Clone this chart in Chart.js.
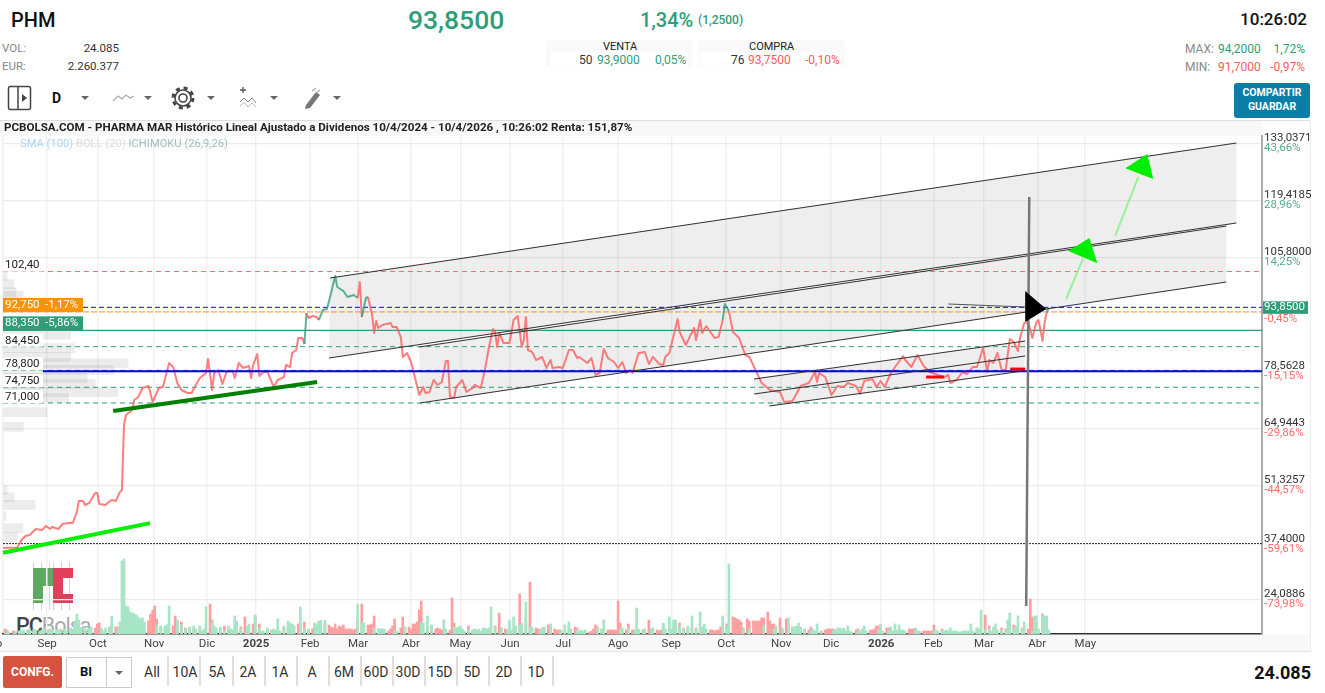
<!DOCTYPE html>
<html>
<head>
<meta charset="utf-8">
<title>PHM</title>
<script src="https://cdn.jsdelivr.net/npm/chart.js@4"></script>
<style>
  html, body { margin: 0; padding: 0; background: #fff; width: 1325px; height: 693px; overflow: hidden; font-family: Roboto, sans-serif; }
  .t { position: absolute; white-space: nowrap; line-height: 1; }
  .box { position: absolute; }
  .gr { color: #2e9e78; }
  .re { color: #ff5a5a; }
  .sep { position: absolute; top: 656px; width: 2px; height: 30px; background: #e6dcdc; }
  .btn { position: absolute; top: 665px; width: 32px; text-align: center; font-size: 14px; line-height: 1; color: #333; }
  .caret { position: absolute; width: 0; height: 0; border-left: 4px solid transparent; border-right: 4px solid transparent; border-top: 4px solid #666; }
  canvas { position: absolute; left: 0; top: 120px; }
</style>
</head>
<body>
<!-- header -->
<div class="t" style="left:11px;top:10px;font-size:20px;font-weight:500;color:#111">PHM</div>
<div class="t gr" style="left:408px;top:7px;font-size:26.5px;font-weight:500">93,8500</div>
<div class="t gr" style="left:640px;top:10px;font-size:20px;font-weight:500">1,34%</div>
<div class="t gr" style="left:698px;top:14px;font-size:12px;font-weight:500">(1,2500)</div>
<div class="t" style="right:18px;top:11px;font-size:17px;font-weight:500;color:#111">10:26:02</div>

<div class="t" style="left:2px;top:43px;font-size:11.5px;color:#888">VOL:</div>
<div class="t" style="right:1206px;top:43px;font-size:11.5px;color:#333">24.085</div>
<div class="t" style="left:2px;top:61px;font-size:11.5px;color:#888">EUR:</div>
<div class="t" style="right:1206px;top:61px;font-size:11.5px;color:#333">2.260.377</div>

<div class="box" style="left:546px;top:40px;width:147px;height:27px;background:#fafafa;border-radius:3px"></div>
<div class="box" style="left:698px;top:40px;width:147px;height:27px;background:#fafafa;border-radius:3px"></div>
<div class="box" style="left:550px;top:52px;width:138px;height:14px;background:#fff"></div>
<div class="box" style="left:701px;top:52px;width:140px;height:14px;background:#fff"></div>
<div class="t" style="left:603px;top:41px;font-size:11px;color:#222">VENTA</div>
<div class="t" style="left:749px;top:41px;font-size:11px;color:#222">COMPRA</div>
<div class="t" style="left:579px;top:54px;font-size:12px;color:#333">50</div>
<div class="t gr" style="left:597px;top:54px;font-size:12px">93,9000</div>
<div class="t gr" style="left:655px;top:54px;font-size:12px">0,05%</div>
<div class="t" style="left:731px;top:54px;font-size:12px;color:#333">76</div>
<div class="t re" style="left:748px;top:54px;font-size:12px">93,7500</div>
<div class="t re" style="left:805px;top:54px;font-size:12px">-0,10%</div>

<div class="t" style="left:1185px;top:43px;font-size:12px;color:#888">MAX:</div>
<div class="t gr" style="left:1218px;top:43px;font-size:12px">94,2000</div>
<div class="t gr" style="right:20px;top:43px;font-size:12px">1,72%</div>
<div class="t" style="left:1185px;top:61px;font-size:12px;color:#888">MIN:</div>
<div class="t re" style="left:1218px;top:61px;font-size:12px">91,7000</div>
<div class="t re" style="right:20px;top:61px;font-size:12px">-0,97%</div>

<div class="box" style="left:1234px;top:83px;width:76px;height:35px;background:#0a7ea6;border-radius:3px"></div>
<div class="t" style="left:1234px;width:76px;text-align:center;top:88px;font-size:10.5px;font-weight:700;color:#fff">COMPARTIR</div>
<div class="t" style="left:1234px;width:76px;text-align:center;top:102px;font-size:10.5px;font-weight:700;color:#fff">GUARDAR</div>

<!-- toolbar -->
<svg class="box" style="left:6px;top:84px" width="340" height="28" viewBox="0 0 340 28">
  <rect x="2.5" y="2.5" width="22" height="23" rx="2" fill="none" stroke="#444" stroke-width="1.5"/>
  <line x1="12" y1="3" x2="12" y2="25" stroke="#444" stroke-width="1.5"/>
  <path d="M16 10 L21 14 L16 18 Z" fill="#444"/>
  <polyline points="107,17 112,12 116,15 120,11 124,14 128,12" fill="none" stroke="#aaa" stroke-width="1.2"/>
  <circle cx="177" cy="14" r="4" fill="none" stroke="#444" stroke-width="1.6"/>
  <circle cx="177" cy="14" r="8" fill="none" stroke="#444" stroke-width="1.6"/>
  <circle cx="177" cy="14" r="10" fill="none" stroke="#444" stroke-width="3" stroke-dasharray="4 3.9"/>
  <path d="M234 6 h6 M237 3 v6" stroke="#555" stroke-width="1.3"/>
  <polyline points="234,18 238,14 242,18 246,14 250,19" fill="none" stroke="#888" stroke-width="1"/>
  <polyline points="234,22 238,18 242,23 246,19 250,23" fill="none" stroke="#bbb" stroke-width="1"/>
  <path d="M300 21 L310 8 L314 11 L304 24 L299 25 Z" fill="#777"/>
  <path d="M306 7 L310 4 M310 9 L314 6" stroke="#aaa" stroke-width="1.2"/>
</svg>
<div class="t" style="left:52px;top:91px;font-size:14px;font-weight:700;color:#111">D</div>
<div class="caret" style="left:81px;top:96px"></div>
<div class="caret" style="left:144px;top:96px"></div>
<div class="caret" style="left:207px;top:96px"></div>
<div class="caret" style="left:270px;top:96px"></div>
<div class="caret" style="left:333px;top:96px"></div>

<!-- chart frame -->
<div class="box" style="left:0;top:120px;width:1311px;height:1px;background:#e4dcd6"></div>
<div class="box" style="left:0;top:121px;width:1262px;height:15px;background:#f8f8f8"></div>
<div class="box" style="left:0;top:635px;width:1311px;height:16px;background:#f8f8f8;border-bottom:1px solid #e6e6e6"></div>
<div class="box" style="left:1310px;top:120px;width:1px;height:531px;background:#eee"></div>

<!-- watermark -->
<div class="box" style="left:33px;top:562px;width:20px;height:48px;background:repeating-linear-gradient(90deg,rgba(95,168,95,.35) 0 1px,transparent 1px 8px)"></div>
<div class="box" style="left:53px;top:562px;width:20px;height:48px;background:repeating-linear-gradient(90deg,rgba(224,64,92,.3) 0 1px,transparent 1px 8px)"></div>
<div class="box" style="left:33px;top:568px;width:10px;height:35px;background:#5fa85f"></div>
<div class="box" style="left:43px;top:568px;width:10px;height:18px;background:#5fa85f"></div>
<div class="box" style="left:53px;top:568px;width:10px;height:35px;background:#e0405c"></div>
<div class="box" style="left:63px;top:568px;width:10px;height:10px;background:#e0405c"></div>
<div class="box" style="left:63px;top:594px;width:10px;height:9px;background:#e0405c"></div>
<div class="t" style="left:16px;top:615px;font-size:21.5px;letter-spacing:-1px;color:#444;font-weight:500">PC<span style="color:#aaa;font-weight:400">Bolsa</span></div>

<canvas id="chartPHM" width="1320" height="530"></canvas>

<!-- chart title, over the canvas -->
<div class="t" style="left:4px;top:122px;font-size:11.6px;font-weight:700;color:#222">PCBOLSA.COM - PHARMA MAR Histórico Lineal Ajustado a Dividenos 10/4/2024 - 10/4/2026 , 10:26:02 Renta: 151,87%</div>
<div class="t" style="left:20px;top:138px;font-size:11.2px;color:#a9d6f5">SMA (100) <span style="color:#ddd">BOLL (20)</span> <span style="color:#9cbfc0">ICHIMOKU (26,9,26)</span></div>

<!-- bottom bar -->
<div class="box" style="left:3px;top:656px;width:59px;height:32px;background:#d5533f;border-radius:2px"></div>
<div class="t" style="left:3px;width:59px;text-align:center;top:666px;font-size:12px;font-weight:700;color:#fff">CONFG.</div>
<div class="box" style="left:66px;top:657px;width:64px;height:29px;border:1px solid #ccc"></div>
<div class="box" style="left:106px;top:657px;width:1px;height:30px;background:#ccc"></div>
<div class="t" style="left:80px;top:665px;font-size:13px;font-weight:700;color:#111">BI</div>
<div class="caret" style="left:115px;top:671px"></div>
<div class="btn" style="left:136px">All</div><div class="sep" style="left:167px"></div>
<div class="btn" style="left:169px">10A</div><div class="sep" style="left:199px"></div>
<div class="btn" style="left:201px">5A</div><div class="sep" style="left:232px"></div>
<div class="btn" style="left:232px">2A</div><div class="sep" style="left:264px"></div>
<div class="btn" style="left:264px">1A</div><div class="sep" style="left:296px"></div>
<div class="btn" style="left:296px">A</div><div class="sep" style="left:328px"></div>
<div class="btn" style="left:328px">6M</div><div class="sep" style="left:360px"></div>
<div class="btn" style="left:360px">60D</div><div class="sep" style="left:392px"></div>
<div class="btn" style="left:392px">30D</div><div class="sep" style="left:424px"></div>
<div class="btn" style="left:424px">15D</div><div class="sep" style="left:456px"></div>
<div class="btn" style="left:456px">5D</div><div class="sep" style="left:488px"></div>
<div class="btn" style="left:488px">2D</div><div class="sep" style="left:520px"></div>
<div class="btn" style="left:520px">1D</div><div class="sep" style="left:552px"></div>
<div class="t" style="right:14px;top:664px;font-size:18px;font-weight:700;color:#111">24.085</div>

<script>
// x axis counts trading sessions from 10/4/2024, month starts fall between sessions
const monthBars = [0, 21.5, 46.3, 73.7, 99.5, 123.4, 149.8, 173.2, 199, 223, 247.3, 273.2, 300, 325.9, 352.7, 379.5, 403.9, 428.3, 453.7, 478.5, 504.4, 527.8];
const monthLabels = ['', 'Sep', 'Oct', 'Nov', 'Dic', '2025', 'Feb', 'Mar', 'Abr', 'May', 'Jun', 'Jul', 'Ago', 'Sep', 'Oct', 'Nov', 'Dic', '2026', 'Feb', 'Mar', 'Abr', 'May'];

const priceTicks = [133.0371, 119.4185, 105.8, 93.85, 78.5628, 64.9443, 51.3257, 37.4, 24.0886];
const priceTickLabels = ['133,0371', '119,4185', '105,8000', '93,8500', '78,5628', '64,9443', '51,3257', '37,4000', '24,0886'];
const priceTickPercents = ['43,66%', '28,96%', '14,25%', '-0,45%', '-15,15%', '-29,86%', '-44,57%', '-59,61%', '-73,98%'];

const priceBars = [0,7,9,11,13,16,19,21,23,24,27,29,32,34,36,37,39,40,42,45,46,47,50,51,53,55,57,58,59,60,63,64,66,68,71,73,76,78,81,83,85,87,90,92,94,96,99,100,102,103,105,107,109,112,113,115,117,120,121,122,124,125,127,129,132,134,137,138,140,141,143,144,146,147,148,149,151,153,154,156,158,160,162,163,166,168,171,173,174,175,177,178,180,181,182,183,185,189,190,192,194,195,197,199,200,203,205,206,208,210,212,214,216,217,218,220,221,224,226,229,230,233,235,237,239,240,241,242,244,247,249,251,253,254,255,256,258,260,263,265,267,268,271,273,276,278,280,281,285,287,289,291,293,295,298,300,302,304,306,307,310,313,315,317,320,322,323,325,329,330,333,337,338,340,341,343,347,349,351,352,354,356,359,362,364,367,370,374,379,381,385,389,393,396,397,398,401,404,407,410,412,416,418,420,424,426,428,430,433,435,439,440,443,446,449,452,456,459,461,462,465,468,470,473,475,478,480,481,483,485,487,489,491,493,495,496,498,500,502,504,505,507,508,509,510];
const priceValues = [36.35,36.47,38.26,39.22,39.46,40.89,40.65,41.61,40.89,41.37,40.89,42.09,42.33,42.33,44.95,47.58,47.58,46.63,47.10,49.49,49.49,46.86,46.62,47.10,47.82,47.58,49.73,50.21,65.74,68.13,69.32,71.71,72.43,74.58,75.05,71.23,74.58,74.82,80.55,79.59,75.77,74.10,73.38,73.38,75.29,76.97,78.16,81.51,74.10,78.16,78.88,75.53,78.40,78.64,76.97,80.55,79.36,79.83,76.97,80.07,82.70,77.44,78.40,78.40,74.82,76.49,77.20,80.07,79.59,82.94,83.66,86.52,86.52,85.09,92.49,91.30,91.78,91.54,90.82,93.21,93.45,97.27,101.33,98.71,97.75,96.32,96.80,96.08,99.90,91.54,96.08,96.32,92.02,87.72,90.58,88.91,89.63,90.11,89.15,89.15,86.76,81.98,82.94,80.79,78.88,72.90,74.82,73.38,73.62,76.49,75.29,76.01,81.03,81.03,72.43,72.19,74.82,76.49,73.62,74.58,75.29,74.58,78.88,84.37,88.67,87.95,84.37,87.72,85.33,85.33,90.82,91.78,84.37,86.04,91.54,83.65,83.18,81.27,81.98,79.36,81.27,79.36,79.59,79.36,83.65,83.65,81.74,81.98,80.55,81.74,77.68,78.16,83.89,81.74,80.79,79.36,80.79,78.16,78.88,78.16,82.94,83.18,80.31,82.02,80.31,80.07,81.98,82.94,91.06,87.95,84.85,88.91,86.04,90.82,87.72,89.39,86.52,86.76,90.82,94.64,92.97,87.95,86.52,82.46,81.98,78.88,75.77,74.10,73.62,71.23,71.47,75.05,75.77,78.40,76.01,78.16,77.20,72.90,75.05,74.82,75.77,75.05,73.14,76.25,76.73,74.82,76.25,74.82,78.16,79.59,82.22,81.27,79.59,82.46,79.83,78.40,77.68,77.20,77.68,75.77,76.49,78.40,77.92,79.59,79.59,84.13,78.40,81.27,80.55,82.94,78.88,78.88,86.28,85.56,83.42,86.52,90.11,90.34,86.52,90.34,90.82,85.81,90.34,92.60,93.85];
// stretches of the line the source paints green: [first session, last session]
const greenStretches = [[147, 148], [154, 173], [175, 178], [351, 354], [509, 510]];

// volume per session, one value per session from 0 to 510, negative = down day
const volumeValues = [
  -5,-4,3,2,-3,-2,3,-3,3,3,4,-4,3,5,-3,5,4,-3,3,4,5,-4,3,5,4,-3,4,3,5,-4,5,3,-4,6,5,12,20,14,6,-4,
  7,-5,6,7,-6,-10,-11,-5,6,3,6,-7,7,18,-7,-7,6,12,73,75,28,27,22,21,20,19,17,15,16,12,-13,-20,-24,-28,-15,9,-7,8,-6,8,
  9,28,-8,-18,-13,14,-12,9,-6,5,-5,7,-6,8,5,-5,8,3,5,27,-30,-14,12,8,6,-5,7,-8,3,-6,8,5,4,18,13,-7,5,-17,-6,8,
  10,-10,-18,19,-10,6,3,3,-3,6,-4,3,5,4,15,3,-7,8,-6,13,11,10,8,-10,-11,27,-12,5,-4,5,-5,-10,11,10,13,14,-11,14,-9,-7,
  -6,-10,-5,-8,-7,-9,-5,-5,-5,-5,-4,-5,-13,30,-30,11,11,-9,-9,-10,-18,6,-5,5,5,5,5,-3,-5,-8,-15,3,3,-6,-17,-6,7,-7,-5,-10,
  -10,-12,-24,-33,11,11,-7,18,-8,9,-5,-6,-5,-4,-3,14,5,-4,-36,-11,7,6,7,8,5,3,-8,4,-4,4,5,4,5,3,6,6,5,6,27,-8,
  7,-21,-6,5,-5,-4,3,14,4,17,8,-40,9,11,-13,32,-52,7,7,-6,-5,-4,5,6,7,-9,-9,10,-5,-4,-4,-4,3,-4,9,-8,12,5,-7,-6,
  4,3,4,3,4,-2,-3,-5,-9,-7,6,-5,5,14,-4,-4,-4,-4,-4,-33,-11,5,6,-4,-10,6,-4,-4,3,26,5,-4,3,5,-14,-5,4,6,-4,-3,
  -4,-7,11,5,-5,17,5,14,14,-11,8,-6,5,-5,8,-6,18,-6,5,-5,22,7,10,5,-4,-4,-3,-4,-4,-7,-5,18,-10,8,70,-17,-16,-15,-14,-12,
  -6,5,-15,-13,5,-13,-13,-13,-13,-16,-16,8,-22,-13,-10,-10,5,8,-16,-5,6,-15,-8,16,-7,7,7,8,11,7,-4,5,-4,-7,3,5,3,10,-3,2,
  -4,-5,-5,-5,-5,3,4,6,6,5,6,3,8,3,2,-4,-5,3,3,5,8,3,-4,-4,-5,-8,-8,4,10,3,-6,-6,4,7,3,10,4,9,4,4,
  3,-5,-5,-5,-5,6,3,3,-3,-3,-3,-3,-3,-9,3,4,3,-5,3,3,4,3,6,3,3,3,2,2,3,3,3,3,10,3,-6,6,5,24,-19,4,
  -8,5,3,7,10,4,-6,4,-5,3,14,21,-9,5,8,18,-6,5,12,-5,-35,-17,3,18,18,5,-20,18,18,18,4
];

// volume-at-price histogram on the left edge
const profilePrices = [101.3, 99.4, 97.5, 96.6, 87.3, 84.1, 82.0, 80.5, 78.9, 77.0, 75.5, 73.6, 72.2, 68.8, 65.3, 50.2, 48.5, 46.6, 44.0, 41.1, 39.0];
const profileSizes = [2, 5.4, 6.3, 9.8, 33, 35, 33, 61, 54, 41, 45, 56, 32, 21.5, 10, 2, 5.4, 15.6, 1.5, 9.8, 7];

// horizontal levels
const level10240 = 102.40, level9385 = 93.85, level9275 = 92.75, level8835 = 88.35, level8445 = 84.45;
const level7880 = 78.80, level7856 = 78.5628, level7475 = 74.75, level7100 = 71.00, level3740 = 37.40;
const leftLabelLevels = [102.40, 84.45, 78.80, 74.75, 71.00];
const leftLabelTexts = ['102,40', '84,450', '78,800', '74,750', '71,000'];

// drawn channels and trend lines as [session, price] pairs
const channelTop = [[159.5, 100.86], [601.5, 133.11]];
const channelUpperMid = [[159, 81.74], [601.5, 114.0]];
const channelLowerMid = [[203, 84.37], [596.6, 113.28]];
const channelBottom = [[203.4, 70.99], [596.6, 99.90]];
const smallTop = [[366.3, 76.73], [498.5, 85.81]];
const smallMid = [[366.3, 73.14], [498.5, 82.22]];
const smallBottom = [[373.7, 70.28], [497.6, 78.64]];
const limeTrend = [[0, 35.2], [71.7, 42.3]];
const darkTrend = [[53.7, 69.08], [153.2, 76.0]];
const redMarkA = [[450.2, 77.2], [459, 77.2]];
const redMarkB = [[491.2, 79.1], [498.5, 79.1]];
const greyLine = [[461, 94.64], [499, 93.93]];
const greyStem = [[500.5, 120.2], [499, 22.5]];
const blackHead = [[498.5, 97.75], [508.8, 93.45], [498.5, 90.34]];
const greenStemA = [[518.5, 95.84], [526.8, 105.6]];
const greenHeadA = [[519.5, 107.3], [529.8, 110.4], [533.7, 104.4]];
const greenStemB = [[542.4, 110.9], [553.7, 125.0]];
const greenHeadB = [[547.3, 127.1], [558, 130.5], [561, 124.5]];

function xy(pairs) {
  return pairs.map(p => ({ x: p[0], y: p[1] }));
}
function segment(pairs, color, width, order) {
  return { type: 'line', data: xy(pairs), borderColor: color, borderWidth: width, pointRadius: 0, order: order, clip: false };
}
function band(lineA, lineB) {
  const shape = [lineA[0], lineA[1], lineB[1], lineB[0]];
  return { type: 'line', data: xy(shape), borderWidth: 0, pointRadius: 0, fill: 'shape', backgroundColor: 'rgba(120,120,120,0.13)', order: 9 };
}
function head(pairs, color) {
  return { type: 'line', data: xy(pairs), borderWidth: 0, pointRadius: 0, fill: 'shape', backgroundColor: color, order: 1 };
}
function level(value, color, width, dash, fromBar) {
  return { type: 'line', data: [{ x: fromBar, y: value }, { x: 614, y: value }], borderColor: color, borderWidth: width, borderDash: dash, pointRadius: 0, order: 6 };
}
function isGreen(bar) {
  return greenStretches.some(s => bar >= s[0] && bar < s[1]);
}

const upVolume = [], downVolume = [];
volumeValues.forEach((v, i) => {
  (v > 0 ? upVolume : downVolume).push({ x: i, y: Math.abs(v) });
});

// tags, left labels and percent labels that Chart.js has no option for
const pricePanelLabels = {
  id: 'pricePanelLabels',
  beforeDraw(chart) {
    const ctx = chart.ctx, y = chart.scales.y;
    ctx.save();
    ctx.fillStyle = '#2e9e78';
    ctx.fillRect(chart.chartArea.right, y.getPixelForValue(level9385) - 6, 46, 12.5);
    ctx.restore();
  },
  afterDraw(chart) {
    const ctx = chart.ctx, y = chart.scales.y, area = chart.chartArea;
    ctx.save();
    ctx.textBaseline = 'middle';
    ctx.font = '11.5px Roboto';

    // left level labels on a white plate
    leftLabelLevels.forEach((v, i) => {
      const py = y.getPixelForValue(v);
      ctx.fillStyle = '#fff';
      ctx.fillRect(3, py - 13, 40, 13);
      ctx.fillStyle = '#222';
      ctx.textAlign = 'left';
      ctx.fillText(leftLabelTexts[i], 5, py - 6);
    });

    // orange and green tags
    [[level9275, '#ff9200', '92,750', '-1,17%'], [level8835, '#2e9e78', '88,350', '-5,86%']].forEach(tag => {
      const py = y.getPixelForValue(tag[0]);
      ctx.fillStyle = tag[1];
      ctx.fillRect(3, py - 14, 80, 14);
      ctx.fillStyle = '#fff';
      ctx.textAlign = 'left';
      ctx.fillText(tag[2], 5, py - 7);
      ctx.fillText(tag[3], 45, py - 7);
    });

    // percent under each axis value
    priceTicks.forEach((v, i) => {
      const py = y.getPixelForValue(v);
      const txt = priceTickPercents[i];
      ctx.fillStyle = txt.charAt(0) === '-' ? '#ff6b6b' : '#52ad88';
      ctx.textAlign = 'left';
      ctx.fillText(txt, area.right + 2, py + (v === level9385 ? 11.5 : 5));
    });

    // cut off month name at the left edge
    ctx.fillStyle = '#444';
    ctx.textAlign = 'center';
    ctx.fillText('Ago', -8, area.bottom + 10);
    ctx.restore();
  }
};

new Chart(document.getElementById('chartPHM').getContext('2d'), {
  data: {
    datasets: [
      { type: 'bar', data: upVolume, yAxisID: 'yVol', backgroundColor: '#a6e6c6', barThickness: 2, order: 10 },
      { type: 'bar', data: downVolume, yAxisID: 'yVol', backgroundColor: '#ffa0a0', barThickness: 2, order: 10 },
      {
        type: 'bar', indexAxis: 'y', barThickness: 9, order: 9, backgroundColor: 'rgba(120,120,120,0.14)',
        data: profilePrices.map((p, i) => ({ y: p, x: profileSizes[i] }))
      },
      band(channelTop, channelUpperMid),
      band(channelLowerMid, channelBottom),
      band(smallTop, smallMid),
      band(smallMid, smallBottom),
      level(level10240, '#ff6b6b', 1, [5, 4], 0),
      level(level9385, '#1010c8', 1, [5, 3], 0),
      level(level9275, '#f7931e', 1, [6, 2], 0),
      level(level8835, '#2e9e78', 1.3, [], 0),
      level(level8445, '#2e9e78', 1, [5, 4], 0),
      level(level7880, '#2e9e78', 1, [5, 4], 0),
      level(level7475, '#2e9e78', 1, [5, 4], 0),
      level(level7100, '#2e9e78', 1, [5, 4], 0),
      level(level3740, '#222222', 1, [2, 1], 0),
      {
        type: 'line', order: 5, pointRadius: 0, borderWidth: 2, tension: 0,
        borderColor: 'rgba(255,90,90,0.78)', borderJoinStyle: 'round',
        data: priceBars.map((b, i) => ({ x: b, y: priceValues[i] })),
        segment: { borderColor: c => isGreen(c.p0.parsed.x) ? 'rgba(46,158,120,0.78)' : undefined }
      },
      Object.assign(level(level7856, '#0000ee', 2, [], 19.5), { order: 4 }),
      segment(channelTop, '#333', 1.2, 3),
      segment(channelUpperMid, '#333', 1.2, 3),
      segment(channelLowerMid, '#333', 1.2, 3),
      segment(channelBottom, '#333', 1.2, 3),
      segment(smallTop, '#333', 1.2, 3),
      segment(smallMid, '#333', 1.2, 3),
      segment(smallBottom, '#333', 1.2, 3),
      segment(limeTrend, '#00f000', 4, 3),
      segment(darkTrend, '#008000', 4, 3),
      segment(redMarkA, '#ff0000', 3, 3),
      segment(redMarkB, '#ff0000', 3, 3),
      segment(greyLine, '#555', 1.2, 3),
      segment(greyStem, '#777', 2.5, 2),
      segment(greenStemA, '#98f098', 2, 2),
      segment(greenStemB, '#98f098', 2, 2),
      head(blackHead, '#000'),
      head(greenHeadA, '#00ee00'),
      head(greenHeadB, '#00ee00')
    ]
  },
  options: {
    responsive: false,
    animation: false,
    layout: { padding: { left: 3, top: 16, right: 0, bottom: 0 } },
    plugins: { legend: { display: false }, tooltip: { enabled: false } },
    scales: {
      x: {
        type: 'linear', min: 0, max: 614, offset: false,
        afterFit: s => { s.height = 16; },
        afterBuildTicks: s => { s.ticks = monthBars.map(v => ({ value: v })); },
        grid: { color: '#f1f1f1', lineWidth: 1.5, drawTicks: false, offset: false },
        border: { color: '#333', width: 1.5 },
        ticks: {
          autoSkip: false, maxRotation: 0, padding: 3, color: '#444',
          font: c => ({ family: 'Roboto', size: 11.5, weight: /^20/.test(monthLabels[c.index] || '') ? 'bold' : 'normal' }),
          callback: v => monthLabels[monthBars.indexOf(v)]
        }
      },
      y: {
        type: 'linear', position: 'right', min: 15.81, max: 134.78, offset: false,
        afterFit: s => { s.width = 58; },
        afterBuildTicks: s => { s.ticks = priceTicks.map(v => ({ value: v })); },
        grid: {
          drawTicks: false, lineWidth: 1.2, offset: false,
          color: c => (c.tick && (c.tick.value === 93.85 || c.tick.value === 37.4 || c.tick.value === 78.5628)) ? 'transparent' : '#ececec'
        },
        border: { color: '#aaa', width: 2 },
        ticks: {
          autoSkip: false, padding: 2, color: c => c.tick.value === 93.85 ? '#fff' : '#333',
          font: { family: 'Roboto', size: 11.5, lineHeight: 0.85 },
          callback: (v) => {
            const i = priceTicks.indexOf(v);
            return v === 93.85 ? priceTickLabels[i] : [priceTickLabels[i], ' '];
          }
        }
      },
      yVol: { type: 'linear', display: false, min: 0, max: 498, offset: false }
    }
  },
  plugins: [pricePanelLabels]
});
</script>
</body>
</html>
